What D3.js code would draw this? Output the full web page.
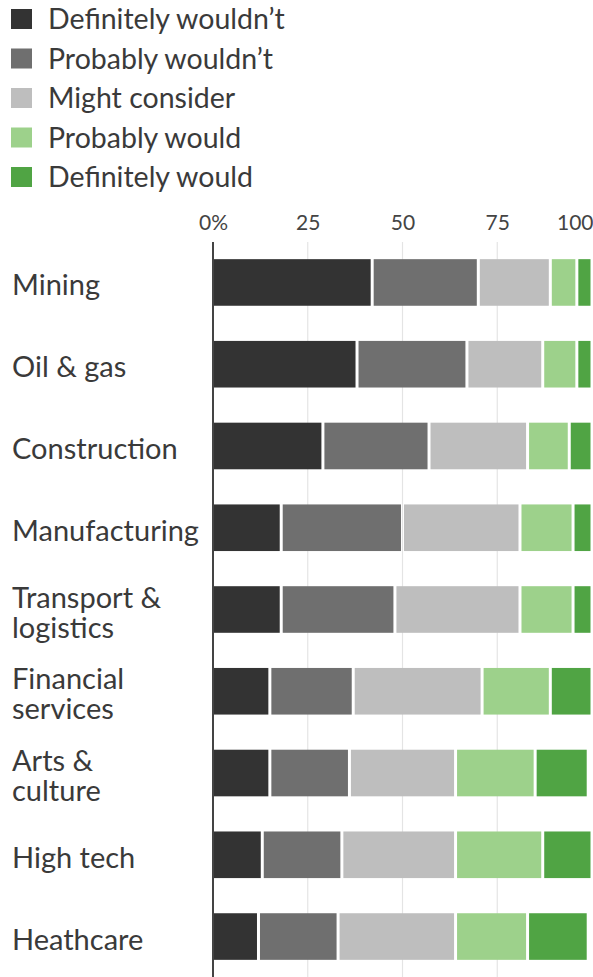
<!DOCTYPE html>
<html>
<head>
<meta charset="utf-8">
<script src="https://cdn.jsdelivr.net/npm/d3@7"></script>
<style>
  html, body { margin: 0; padding: 0; background: #fff; }
  svg { display: block; font-family: Lato, "Noto Sans", sans-serif; }
</style>
</head>
<body>
<svg id="chart" width="593" height="977"></svg>
<script>
// Survey answers by industry, share of respondents (%)
const responses = ["Definitely wouldn’t", "Probably wouldn’t", "Might consider", "Probably would", "Definitely would"];
const industries = [
  ["Mining"], ["Oil & gas"], ["Construction"], ["Manufacturing"],
  ["Transport &", "logistics"], ["Financial", "services"], ["Arts &", "culture"],
  ["High tech"], ["Heathcare"]
];
const definitelyWouldnt = [42, 38, 29, 18, 18, 15, 15, 13, 12];
const probablyWouldnt   = [28, 29, 28, 32, 30, 22, 21, 21, 21];
const mightConsider     = [19, 20, 26, 31, 33, 34, 28, 30, 31];
const probablyWould     = [ 7,  9, 11, 14, 14, 18, 21, 23, 19];
const definitelyWould   = [ 4,  4,  6,  5,  5, 11, 14, 13, 16];
const tickValues = [0, 25, 50, 75, 100];
const tickLabels = ["0%", "25", "50", "75", "100"];
const colors = ["#333333", "#6f6f6f", "#bebebe", "#9dd18b", "#50a444"];

const series = [definitelyWouldnt, probablyWouldnt, mightConsider, probablyWould, definitelyWould];
const rows = industries.map((lines, i) => {
  const r = { key: lines.join(" "), lines };
  responses.forEach((k, j) => { r[k] = series[j][i]; });
  return r;
});

const svg = d3.select("#chart");
const x = d3.scaleLinear().domain([0, 100]).range([213, 592]);
const y = d3.scaleBand().domain(rows.map(d => d.key)).range([224, 995]).padding(0.43);

// vertical gridlines
svg.append("g")
  .selectAll("line")
  .data(tickValues.filter(v => v > 0 && v < 100))
  .join("line")
  .attr("x1", d => x(d)).attr("x2", d => x(d))
  .attr("y1", 242).attr("y2", 977)
  .attr("stroke", "#e4e4e4").attr("stroke-width", 1.2);

// tick labels along the top
const axis = d3.axisTop(x).tickValues(tickValues).tickSize(0)
  .tickFormat((d, i) => tickLabels[i]);
const ax = svg.append("g").attr("transform", "translate(0,233)").call(axis);
ax.select(".domain").remove();
ax.selectAll("text")
  .attr("dy", 0)
  .attr("font-size", 21)
  .attr("fill", "#444")
  .attr("font-family", "Lato, 'Noto Sans', sans-serif")
  .attr("text-anchor", (d, i) => i === tickValues.length - 1 ? "end" : "middle")
  .attr("x", (d, i) => i === tickValues.length - 1 ? 593 - x(d) : 0);

// stacked bars, separated by thin white gaps
const stack = d3.stack().keys(responses)(rows);
const gap = 1.5;
svg.append("g")
  .selectAll("g")
  .data(stack)
  .join("g")
  .attr("fill", (d, i) => colors[i])
  .selectAll("rect")
  .data(d => d)
  .join("rect")
  .attr("x", d => x(d[0]) + (d[0] > 0 ? gap : 0))
  .attr("y", d => y(d.data.key))
  .attr("width", d => Math.max(0, x(d[1]) - x(d[0]) - (d[0] > 0 ? gap : 0) - gap))
  .attr("height", y.bandwidth());

// baseline
svg.append("line")
  .attr("x1", x(0)).attr("x2", x(0))
  .attr("y1", 242).attr("y2", 977)
  .attr("stroke", "#444").attr("stroke-width", 2);

// industry labels (one or two lines each)
const lab = svg.append("g")
  .selectAll("text")
  .data(rows)
  .join("text")
  .attr("x", 12)
  .attr("font-size", 29)
  .attr("fill", "#3a3a3a");
lab.each(function (d) {
  const c = y(d.key) + y.bandwidth() / 2;
  const t = d3.select(this);
  if (d.lines.length === 1) {
    t.append("tspan").attr("x", 12).attr("y", c + 13).text(d.lines[0]);
  } else {
    d.lines.forEach((s, k) => t.append("tspan").attr("x", 12).attr("y", c - 2 + k * 30).text(s));
  }
});

// legend
const leg = svg.append("g")
  .selectAll("g")
  .data(responses)
  .join("g")
  .attr("transform", (d, i) => `translate(0,${19 + i * 39.5})`);
leg.append("rect")
  .attr("x", 11).attr("y", -10).attr("width", 21).attr("height", 20)
  .attr("fill", (d, i) => colors[i]);
leg.append("text")
  .attr("x", 48).attr("y", 10)
  .attr("font-size", 28.5)
  .attr("fill", "#3a3a3a")
  .text(d => d);
</script>
</body>
</html>
